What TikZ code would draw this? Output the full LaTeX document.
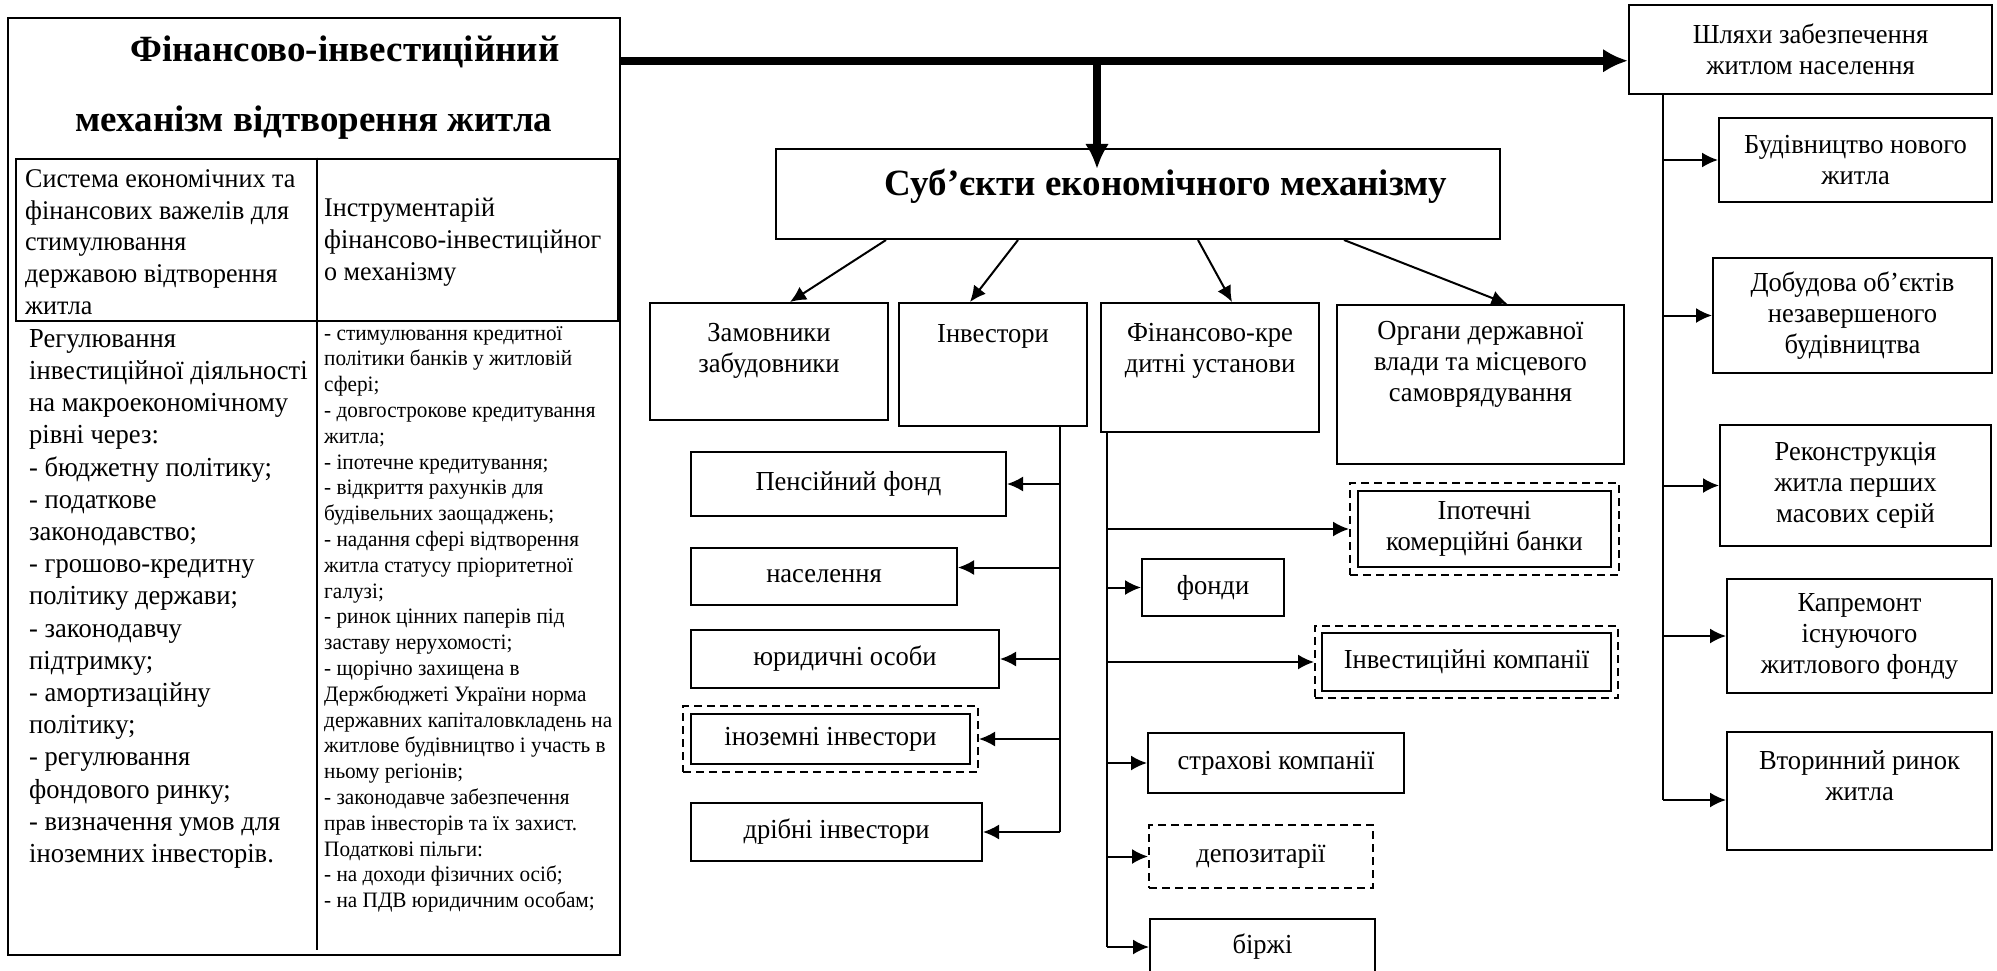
\documentclass[tikz,border=0pt]{standalone}
\usepackage{fontspec}
\setmainfont{Liberation Serif}[UprightFeatures={FakeStretch=0.965}]
\usetikzlibrary{arrows.meta,positioning,fit}

\begin{document}
\begin{tikzpicture}[x=1pt,y=-1pt,>=Latex,
  cbox/.style={draw,line width=2pt,inner sep=0pt,align=center,font={\fontsize{27.5}{31}\selectfont}},
  dbox/.style={cbox,dash pattern=on 8pt off 5pt},
  lbl/.style={inner sep=0pt,align=center,font={\fontsize{27.5}{31}\selectfont}},
  tbl/.style={draw,line width=2.5pt,inner sep=0pt},
  arr/.style={-{Latex[length=16pt,width=15pt]},line width=2pt},
  bigarr/.style={-{Latex[length=25pt,width=24pt]},line width=8pt},
  bus/.style={line width=2pt}]
\useasboundingbox (0,0) rectangle (1997,971);
\clip (0,0) rectangle (1997,971);

\node[tbl,minimum width=612pt,minimum height=937pt] (main) at (314,486.5) {};
\node[inner sep=0pt,align=center,anchor=north,font={\fontsize{37}{70}\selectfont\bfseries}] (title) at (314,36) {\hspace*{62pt}Фінансово-інвестиційний\\механізм відтворення житла};
\node[tbl,minimum width=602pt,minimum height=162pt] (hdr) at (317,240) {};
\draw[line width=2.5pt] (hdr.north) -- (hdr.north |- 0,950);
\node[inner sep=0pt,align=left,anchor=west,font={\fontsize{27}{31.7}\selectfont}] (headL) at (25,242) {Система економічних та\\фінансових важелів для\\стимулювання\\державою відтворення\\житла};
\node[inner sep=0pt,align=left,anchor=west,font={\fontsize{27}{31.7}\selectfont}] (headR) at (324,242) {Інструментарій\\фінансово-інвестиційног\\о механізму};
\node[inner sep=0pt,align=left,anchor=north west,font={\fontsize{27.5}{32.2}\selectfont}] (bodyL) at (29,329) {Регулювання\\інвестиційної діяльності\\на макроекономічному\\рівні через:\\- бюджетну політику;\\- податкове\\законодавство;\\- грошово-кредитну\\політику держави;\\- законодавчу\\підтримку;\\- амортизаційну\\політику;\\- регулювання\\фондового ринку;\\- визначення умов для\\іноземних інвесторів.};
\node[inner sep=0pt,align=left,anchor=north west,font={\fontsize{22}{25.8}\selectfont}] (bodyR) at (324,326) {- стимулювання кредитної\\політики банків у житловій\\сфері;\\- довгострокове кредитування\\житла;\\- іпотечне кредитування;\\- відкриття рахунків для\\будівельних заощаджень;\\- надання сфері відтворення\\житла статусу пріоритетної\\галузі;\\- ринок цінних паперів під\\заставу нерухомості;\\- щорічно захищена в\\Держбюджеті України норма\\державних капіталовкладень на\\житлове будівництво і участь в\\ньому регіонів;\\- законодавче забезпечення\\прав інвесторів та їх захист.\\Податкові пільги:\\- на доходи фізичних осіб;\\- на ПДВ юридичним особам;};

\node[cbox,minimum width=724pt,text height=46pt,text depth=44pt,font={\fontsize{37}{44}\selectfont\bfseries}] (sub) at (1138,194) {\hspace*{56pt}Суб’єкти економічного механізму};
\node[cbox,minimum width=238pt,minimum height=117pt,label={[lbl,yshift=11pt]center:Замовники\\забудовники}] (zam) at (769,361.5) {};
\node[cbox,minimum width=188pt,text height=39pt,text depth=84pt] (inv) at (993,364.5) {Інвестори};
\node[cbox,minimum width=218pt,minimum height=129pt,label={[lbl,yshift=17pt]center:Фінансово-кре\\дитні установи}] (fin) at (1210,367.5) {};
\node[cbox,minimum width=287pt,minimum height=159pt,label={[lbl,yshift=20pt]center:Органи державної\\влади та місцевого\\самоврядування}] (org) at (1480.5,384.5) {};

\node[cbox,minimum width=315pt,minimum height=64pt] (pen) at (848.5,484) {Пенсійний фонд};
\node[cbox,minimum width=266pt,minimum height=57pt] (nas) at (824,576.5) {населення};
\node[cbox,minimum width=308pt,minimum height=58pt] (yur) at (845,659) {юридичні особи};
\node[cbox,minimum width=279pt,minimum height=50pt] (ino) at (830.5,739) {іноземні інвестори};
\node[dbox,fit=(ino),inner sep=7pt] (inofr) {};
\node[cbox,minimum width=291pt,minimum height=58pt] (dri) at (836.5,832) {дрібні інвестори};

\node[cbox,minimum width=253pt,minimum height=76pt] (ipo) at (1484.5,529) {Іпотечні\\комерційні банки};
\node[dbox,fit=(ipo),inner sep=7pt] (ipofr) {};
\node[cbox,minimum width=142pt,minimum height=57pt] (fon) at (1213,587.5) {фонди};
\node[cbox,minimum width=289pt,minimum height=58pt] (ivk) at (1466.5,662) {Інвестиційні компанії};
\node[dbox,fit=(ivk),inner sep=6pt] (ivkfr) {};
\node[cbox,minimum width=256pt,minimum height=60pt] (str) at (1276,763) {страхові компанії};
\node[dbox,minimum width=224pt,minimum height=63pt] (dep) at (1261,856.5) {депозитарії};
\node[cbox,minimum width=225pt,minimum height=56pt] (bir) at (1262.5,947) {біржі};

\node[cbox,minimum width=363pt,minimum height=89pt] (shl) at (1810.5,49.5) {Шляхи забезпечення\\житлом населення};
\node[cbox,minimum width=273pt,minimum height=84pt] (bud) at (1855.5,160) {Будівництво нового\\житла};
\node[cbox,minimum width=279pt,minimum height=115pt] (dob) at (1852.5,315.5) {Добудова об’єктів\\незавершеного\\будівництва};
\node[cbox,minimum width=271pt,minimum height=121pt] (rek) at (1855.5,485.5) {Реконструкція\\житла перших\\масових серій};
\node[cbox,minimum width=265pt,minimum height=114pt] (kap) at (1859.5,636) {Капремонт\\існуючого\\житлового фонду};
\node[cbox,minimum width=265pt,minimum height=118pt,label={[lbl,yshift=15.5pt]center:Вторинний ринок\\житла}] (vto) at (1859.5,791) {};

\coordinate (hub) at ([yshift=-44pt]main.north east);
\coordinate (dn) at ([xshift=-41pt]sub.north);
\draw[bigarr] (hub) -- (hub -| shl.west);
\draw[bigarr] (dn |- hub) -- ([yshift=-21pt]dn);

\draw[arr] ([xshift=-252pt]sub.south) -- ([xshift=21pt]zam.north);
\draw[arr] ([xshift=-120pt]sub.south) -- ([xshift=-23pt]inv.north);
\draw[arr] ([xshift=60pt]sub.south) -- ([xshift=22pt]fin.north);
\draw[arr] ([xshift=206pt]sub.south) -- ([xshift=27pt]org.north);

\coordinate (invbus) at ([xshift=67pt]inv.south);
\coordinate (nasin) at ([yshift=9pt]nas.east);
\draw[bus] (invbus) -- (invbus |- dri.east);
\draw[arr] (invbus |- pen.east) -- (pen.east);
\draw[arr] (invbus |- nasin) -- (nasin);
\draw[arr] (invbus |- yur.east) -- (yur.east);
\draw[arr] (invbus |- inofr.east) -- (inofr.east);
\draw[arr] (invbus |- dri.east) -- (dri.east);

\coordinate (finbus) at ([xshift=7pt]fin.south west);
\draw[bus] (finbus) -- (finbus |- bir.west);
\draw[arr] (finbus |- ipofr.west) -- (ipofr.west);
\draw[arr] (finbus |- fon.west) -- (fon.west);
\draw[arr] (finbus |- ivkfr.west) -- (ivkfr.west);
\draw[arr] (finbus |- str.west) -- (str.west);
\draw[arr] (finbus |- dep.west) -- (dep.west);
\draw[arr] (finbus |- bir.west) -- (bir.west);

\coordinate (shlbus) at ([xshift=35pt]shl.south west);
\coordinate (vtoin) at ([yshift=-9pt]vto.west);
\draw[bus] (shlbus) -- (shlbus |- vtoin);
\draw[arr] (shlbus |- bud.west) -- (bud.west);
\draw[arr] (shlbus |- dob.west) -- (dob.west);
\draw[arr] (shlbus |- rek.west) -- (rek.west);
\draw[arr] (shlbus |- kap.west) -- (kap.west);
\draw[arr] (shlbus |- vtoin) -- (vtoin);
\end{tikzpicture}
\end{document}
